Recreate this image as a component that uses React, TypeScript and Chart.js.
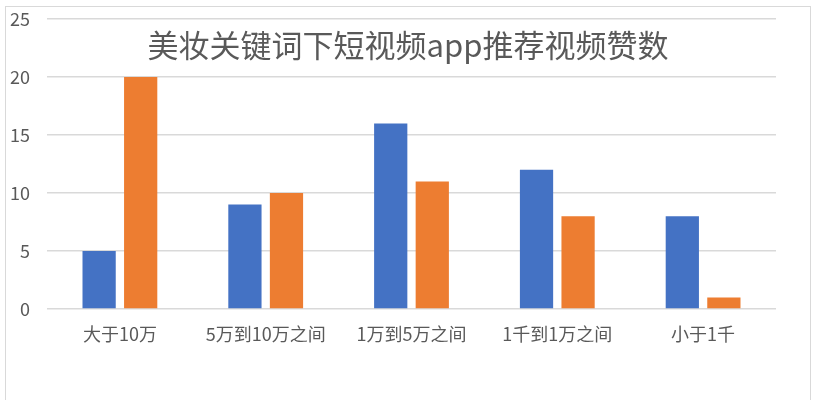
import React, { useEffect, useRef } from "react";
import { Chart, registerables } from "chart.js";

Chart.register(...registerables);

const categories = ["大于10万", "5万到10万之间", "1万到5万之间", "1千到1万之间", "小于1千"];
const seriesBlue = [5, 9, 16, 12, 8];
const seriesOrange = [20, 10, 11, 8, 1];
const yTicks = [0, 5, 10, 15, 20, 25];
const titleText = "美妆关键词下短视频app推荐视频赞数";

const FONT = "'Noto Sans CJK SC', 'Noto Sans', sans-serif";

export default function App() {
  const ref = useRef<HTMLCanvasElement | null>(null);

  useEffect(() => {
    if (!ref.current) return;
    const titlePlugin = {
      id: "overlayTitle",
      afterDraw(chart: any) {
        const ctx = chart.ctx;
        ctx.save();
        ctx.font = `31px ${FONT}`;
        ctx.fillStyle = "#595959";
        ctx.textAlign = "center";
        ctx.textBaseline = "middle";
        ctx.fillText(titleText, 408, 45);
        ctx.restore();
      },
    };
    const chart = new Chart(ref.current, {
      type: "bar",
      data: {
        labels: categories,
        datasets: [
          { label: "A", data: seriesBlue, backgroundColor: "#4472C4", borderWidth: 0 },
          { label: "B", data: seriesOrange, backgroundColor: "#ED7D31", borderWidth: 0 },
        ],
      },
      options: {
        animation: false,
        responsive: false,
        devicePixelRatio: 1,
        layout: { padding: { left: 0, right: 42, top: 19, bottom: 0 } },
        datasets: { bar: { categoryPercentage: 0.57, barPercentage: 0.8 } },
        plugins: { legend: { display: false }, title: { display: false }, tooltip: { enabled: false } },
        scales: {
          x: {
            grid: { display: false, drawTicks: false },
            border: { display: false },
            ticks: { color: "#595959", font: { family: FONT, size: 18 }, padding: 14, maxRotation: 0 },
            afterFit(scale: any) {
              scale.height = 91;
              scale.paddingLeft = 0;
              scale.paddingRight = 0;
            },
          },
          y: {
            min: 0,
            max: 25,
            afterBuildTicks(scale: any) {
              scale.ticks = yTicks.map((v) => ({ value: v }));
            },
            grid: { color: "#D9D9D9", lineWidth: 1.5, drawTicks: false },
            border: { display: false },
            ticks: { color: "#595959", font: { family: FONT, size: 18 }, padding: 17 },
            afterFit(scale: any) {
              scale.width = 47;
              scale.paddingTop = 0;
              scale.paddingBottom = 0;
            },
          },
        },
      },
      plugins: [titlePlugin],
    });
    return () => chart.destroy();
  }, []);

  return (
    <div style={{ position: "fixed", left: 0, top: 0, width: 818, height: 400, background: "#fff", overflow: "hidden" }}>
      <div
        style={{
          position: "absolute",
          left: 5,
          top: 6,
          width: 806,
          height: 420,
          border: "1.5px solid #D9D9D9",
          boxSizing: "border-box",
        }}
      />
      <canvas ref={ref} width={818} height={400} style={{ position: "absolute", left: 0, top: 0 }} />
    </div>
  );
}
